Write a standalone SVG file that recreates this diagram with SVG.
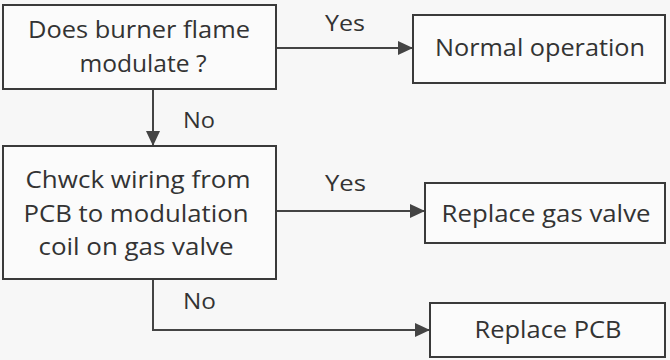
<svg xmlns="http://www.w3.org/2000/svg" width="670" height="360" viewBox="0 0 670 360">
<style>
.box{fill:#fbfbfb;stroke:#3a3a3a;stroke-width:2}
.t{font-family:"Open Sans","Noto Sans",sans-serif;font-size:23px;fill:#333;text-anchor:middle}
.l{font-family:"Open Sans","Noto Sans",sans-serif;font-size:22px;fill:#333}
.c{fill:none;stroke:#444;stroke-width:2}
</style>
<defs>
<marker id="ah" viewBox="0 0 15 14" refX="15" refY="7" markerWidth="15" markerHeight="14" markerUnits="userSpaceOnUse" orient="auto">
<path d="M0,0 L15,7 L0,14 Z" fill="#444"/>
</marker>
</defs>
<rect width="670" height="360" fill="#f7f7f7"/>
<g id="connectors">
<path class="c" d="M276,48 H413" marker-end="url(#ah)"/>
<path class="c" d="M153,89 V146" marker-end="url(#ah)"/>
<path class="c" d="M276,211 H425" marker-end="url(#ah)"/>
<path class="c" d="M153,279 V330 H430" marker-end="url(#ah)"/>
<text class="l" x="325" y="31" textLength="40" lengthAdjust="spacingAndGlyphs">Yes</text>
<text class="l" x="183" y="128" textLength="32" lengthAdjust="spacingAndGlyphs">No</text>
<text class="l" x="325" y="191" textLength="41" lengthAdjust="spacingAndGlyphs">Yes</text>
<text class="l" x="183" y="309" textLength="33" lengthAdjust="spacingAndGlyphs">No</text>
</g>
<g id="n1">
<rect class="box" x="3" y="5" width="273" height="84"/>
<text class="t" x="139" y="38" textLength="222" lengthAdjust="spacingAndGlyphs">Does burner flame</text>
<text class="t" x="143" y="72" textLength="127" lengthAdjust="spacingAndGlyphs">modulate ?</text>
</g>
<g id="n2">
<rect class="box" x="413" y="15" width="252" height="68"/>
<text class="t" x="540" y="56" textLength="210" lengthAdjust="spacingAndGlyphs">Normal operation</text>
</g>
<g id="n3">
<rect class="box" x="3" y="146" width="273" height="133"/>
<text class="t" x="138" y="188" textLength="225" lengthAdjust="spacingAndGlyphs">Chwck wiring from</text>
<text class="t" x="136" y="222" textLength="225" lengthAdjust="spacingAndGlyphs">PCB to modulation</text>
<text class="t" x="136" y="255" textLength="195" lengthAdjust="spacingAndGlyphs">coil on gas valve</text>
</g>
<g id="n4">
<rect class="box" x="425" y="183" width="240" height="60"/>
<text class="t" x="546" y="222" textLength="209" lengthAdjust="spacingAndGlyphs">Replace gas valve</text>
</g>
<g id="n5">
<rect class="box" x="430" y="303" width="235" height="54"/>
<text class="t" x="548" y="338" textLength="147" lengthAdjust="spacingAndGlyphs">Replace PCB</text>
</g>
</svg>
